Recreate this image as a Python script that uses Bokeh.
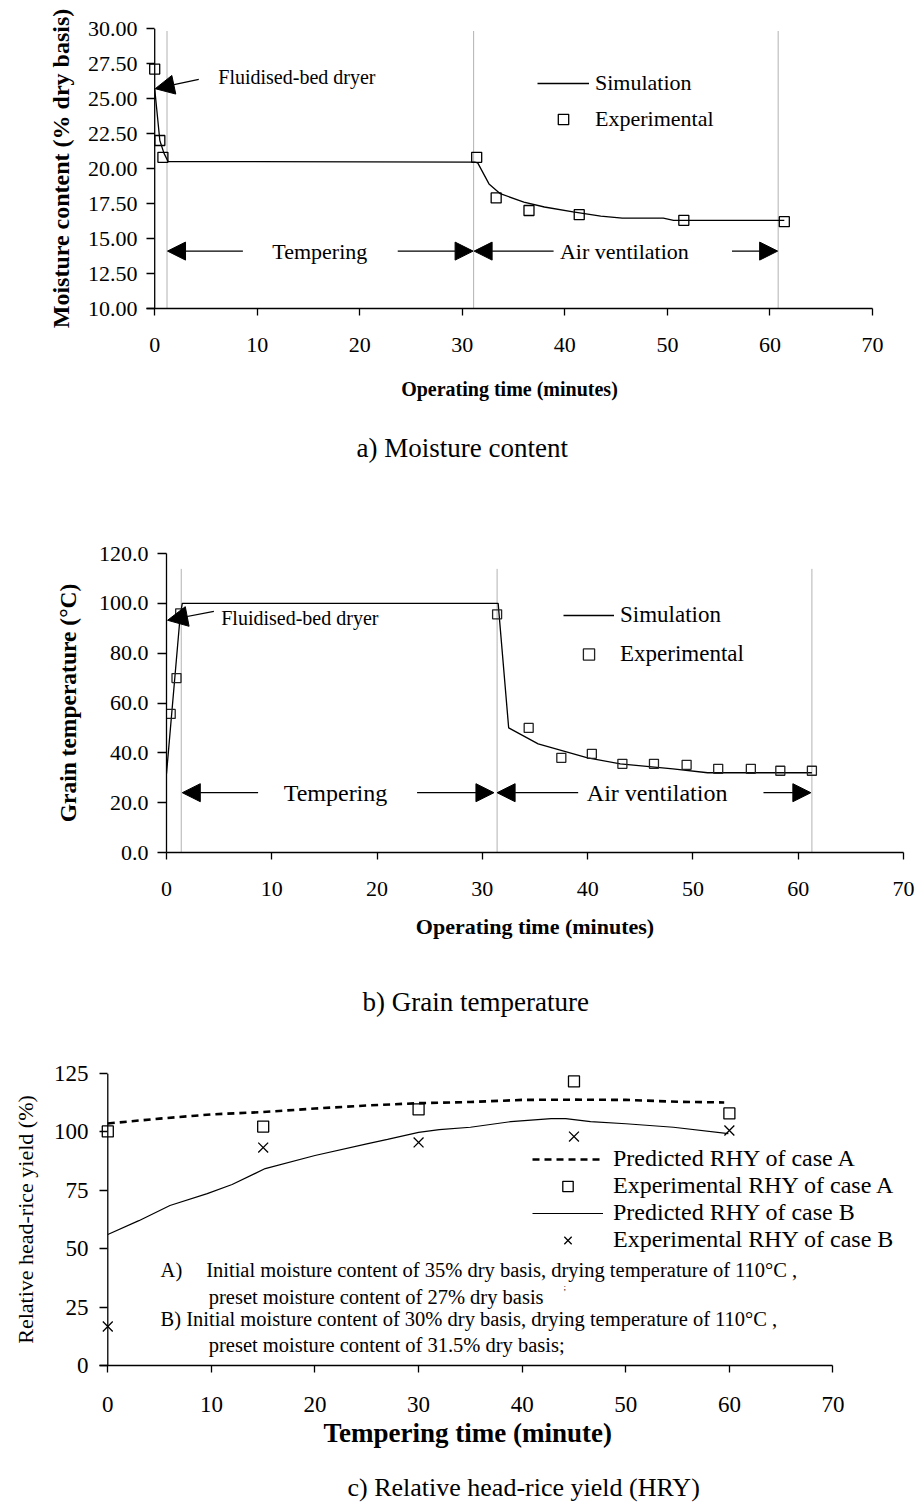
from bokeh.plotting import figure
from bokeh.models import (Range1d, FixedTicker, PrintfTickFormatter, Arrow, NormalHead,
                          Legend, LegendItem, Title, Span)
from bokeh.embed import file_html
from bokeh.resources import INLINE
from bokeh.core.properties import value

FONT = "Liberation Serif"

# ---------------- a) Moisture content ----------------
sim_a_time = [0, 0.5, 0.9, 1.3, 31.2, 31.5, 32.6, 33.7, 36.0, 38.0, 40.8, 43.5, 45.6, 49.6, 50.6, 61.4]
sim_a_mc = [25.7, 22.0, 21.1, 20.5, 20.45, 20.4, 18.9, 18.2, 17.6, 17.25, 16.9, 16.6, 16.45, 16.45, 16.3, 16.3]
exp_a_time = [0, 0.5, 0.8, 31.4, 33.3, 36.5, 41.4, 51.6, 61.4]
exp_a_mc = [27.1, 22.0, 20.8, 20.8, 17.9, 17.0, 16.7, 16.3, 16.2]
phase_a = [1.2, 31.1, 60.8]
a_yticks = [10, 12.5, 15, 17.5, 20, 22.5, 25, 27.5, 30]
x_ticks = [0, 10, 20, 30, 40, 50, 60, 70]

# ---------------- b) Grain temperature ----------------
sim_b_time = [0, 1.3, 1.5, 31.5, 32.5, 35.3, 40.0, 43.1, 48.1, 51.4, 61.3]
sim_b_temp = [31.6, 95.0, 100.0, 100.0, 50.0, 43.6, 38.0, 35.6, 33.6, 32.0, 32.0]
exp_b_time = [0.4, 0.95, 1.3, 31.4, 34.4, 37.5, 40.4, 43.3, 46.3, 49.4, 52.4, 55.5, 58.3, 61.3]
exp_b_temp = [55.6, 70.0, 96.0, 95.6, 50.0, 38.0, 39.6, 35.6, 35.6, 35.2, 33.6, 33.6, 32.8, 32.8]
phase_b = [1.4, 31.4, 61.3]
b_yticks = [0, 20, 40, 60, 80, 100, 120]

# ---------------- c) Relative head-rice yield ----------------
temper_min = [0, 15, 30, 45, 60]
exp_rhy_A = [100.2, 102.3, 109.6, 121.6, 107.9]
exp_rhy_B = [16.7, 93.3, 95.5, 98.0, 100.6]
pred_A_time = [0, 5, 10, 15, 20, 25, 30, 35, 40, 45, 50, 55, 59.5]
pred_rhy_A = [103.6, 105.7, 107.5, 108.5, 110.0, 111.3, 112.3, 112.8, 113.7, 113.8, 113.7, 112.9, 112.6]
pred_B_time = [0, 3, 6, 9.6, 12, 15.2, 20, 25, 27, 30, 32, 35, 38.9, 42.8, 44.2, 46.6, 50, 54.6, 59.9]
pred_rhy_B = [56.1, 62.0, 68.5, 73.6, 77.5, 84.3, 89.9, 94.9, 96.8, 99.8, 101.0, 102.0, 104.4, 105.7, 105.7,
              104.4, 103.5, 102.0, 99.3]
c_yticks = [0, 25, 50, 75, 100, 125]


def style(p, tick_px, xlabel, xlabel_px, ylabel, ylabel_px, ylabel_bold):
    p.outline_line_color = None
    p.xgrid.visible = False
    p.ygrid.visible = False
    p.background_fill_color = "white"
    p.border_fill_color = "white"
    for ax in (p.xaxis[0], p.yaxis[0]):
        ax.axis_line_color = "black"
        ax.axis_line_width = 1.3
        ax.major_tick_line_color = "black"
        ax.major_tick_line_width = 1.3
        ax.major_tick_out = 7
        ax.major_tick_in = 0
        ax.minor_tick_line_color = None
        ax.major_label_text_font = FONT
        ax.major_label_text_font_size = f"{tick_px}px"
        ax.major_label_text_color = "black"
        ax.axis_label_text_font = FONT
        ax.axis_label_text_color = "black"
    if xlabel:
        p.xaxis[0].axis_label = xlabel
        p.xaxis[0].axis_label_text_font_size = f"{xlabel_px}px"
        p.xaxis[0].axis_label_text_font_style = "bold"
    p.yaxis[0].axis_label = ylabel
    p.yaxis[0].axis_label_text_font_size = f"{ylabel_px}px"
    p.yaxis[0].axis_label_text_font_style = "bold" if ylabel_bold else "normal"
    p.xaxis[0].ticker = FixedTicker(ticks=x_ticks)


def inner_y_axis(p, tick_len):
    # axis line drawn at x = 0, ticks reach from the frame edge to it
    ax = p.yaxis[0]
    ax.axis_line_color = None
    ax.major_tick_in = tick_len
    ax.major_tick_out = 0
    p.add_layout(Span(location=0, dimension="height", line_color="black", line_width=1.3))


def arrow(p, xs, ys, xe, ye, size):
    p.add_layout(Arrow(end=NormalHead(size=size, fill_color="black", line_color="black", line_width=1),
                       x_start=xs, y_start=ys, x_end=xe, y_end=ye,
                       line_color="black", line_width=1.2))


def txt(p, x, y, s, px, align="left"):
    p.text(x=[x], y=[y], text=[s], text_font=value(FONT), text_font_size=f"{px}px",
           text_align=align, text_baseline="middle", text_color="black")


def below_title(p, s, px, weight, offset, standoff):
    p.add_layout(Title(text=s, align="left", offset=offset, standoff=standoff,
                       text_font=FONT, text_font_size=f"{px}px", text_font_style=weight,
                       text_color="black"), "below")


def caption(p, s, offset, gap, px=27):
    below_title(p, " ", 1, "normal", 0, gap)      # spacer
    below_title(p, s, px, "normal", offset, 0)


# ===== chart a =====
pa = figure(width=917, height=475, x_range=Range1d(-0.8, 70), y_range=Range1d(10, 30),
            output_backend="svg", toolbar_location=None,
            min_border_left=146, min_border_right=45, min_border_top=28, min_border_bottom=167)
style(pa, 22, "Operating time (minutes)", 20, "Moisture content (% dry basis)", 24, True)
pa.yaxis[0].ticker = FixedTicker(ticks=a_yticks)
pa.yaxis[0].formatter = PrintfTickFormatter(format="%.2f")
inner_y_axis(pa, 8)
pa.yaxis[0].major_label_standoff = 9
pa.yaxis[0].axis_label_standoff = 11
pa.xaxis[0].major_label_standoff = 22
pa.xaxis[0].axis_label_standoff = 23

pa.segment(x0=phase_a, y0=[10] * 3, x1=phase_a, y1=[29.8] * 3,
           line_color="#666666", line_dash="1 1", line_width=1)
ra_sim = pa.line(sim_a_time, sim_a_mc, line_color="black", line_width=1.3)
ra_exp = pa.scatter(exp_a_time, exp_a_mc, marker="square", size=10, fill_color=None,
                    line_color="black", line_width=1.3)
arrow(pa, 4.3, 26.36, 0.05, 25.7, 19)
txt(pa, 6.2, 26.57, "Fluidised-bed dryer", 20)
arrow(pa, 8.6, 14.1, 1.25, 14.1, 18)
arrow(pa, 23.7, 14.1, 31.05, 14.1, 18)
arrow(pa, 38.9, 14.1, 31.15, 14.1, 18)
arrow(pa, 56.3, 14.1, 60.75, 14.1, 18)
txt(pa, 16.1, 14.1, "Tempering", 22, "center")
txt(pa, 45.8, 14.1, "Air ventilation", 22, "center")
la = Legend(items=[LegendItem(label="Simulation", renderers=[ra_sim]),
                   LegendItem(label="Experimental", renderers=[ra_exp])],
            location=(391, 176), glyph_width=52, glyph_height=26, label_height=26, spacing=10,
            label_standoff=6, padding=0, margin=0, border_line_color=None, background_fill_alpha=0,
            label_text_font=FONT, label_text_font_size="22px", label_text_color="black")
pa.add_layout(la)
caption(pa, "a) Moisture content", 356 - 146, 25)

# ===== chart b =====
pb = figure(width=917, height=555, x_range=Range1d(0, 70), y_range=Range1d(0, 120),
            output_backend="svg", toolbar_location=None,
            min_border_left=166, min_border_right=14, min_border_top=78, min_border_bottom=178)
style(pb, 22, "Operating time (minutes)", 22, "Grain temperature (°C)", 23.5, True)
pb.yaxis[0].ticker = FixedTicker(ticks=b_yticks)
pb.yaxis[0].formatter = PrintfTickFormatter(format="%.1f")
pb.yaxis[0].major_tick_out = 9
pb.yaxis[0].major_label_standoff = 9
pb.yaxis[0].axis_label_standoff = 15
pb.xaxis[0].major_label_standoff = 22
pb.xaxis[0].axis_label_standoff = 15

pb.segment(x0=phase_b, y0=[0] * 3, x1=phase_b, y1=[114] * 3,
           line_color="#666666", line_dash="1 1", line_width=1)
rb_sim = pb.line(sim_b_time, sim_b_temp, line_color="black", line_width=1.3)
rb_exp = pb.scatter(exp_b_time, exp_b_temp, marker="square", size=9, fill_color=None,
                    line_color="#222222", line_width=1.3)
arrow(pb, 4.5, 96.8, 0.1, 93.2, 20)
txt(pb, 5.2, 94.0, "Fluidised-bed dryer", 20)
arrow(pb, 8.7, 24, 1.5, 24, 18)
arrow(pb, 23.8, 24, 31.1, 24, 18)
arrow(pb, 39.1, 24, 31.4, 24, 18)
arrow(pb, 56.7, 24, 61.2, 24, 18)
txt(pb, 16.05, 24, "Tempering", 24, "center")
txt(pb, 46.6, 24, "Air ventilation", 24, "center")
lb = Legend(items=[LegendItem(label="Simulation", renderers=[rb_sim]),
                   LegendItem(label="Experimental", renderers=[rb_exp])],
            location=(397, 184), glyph_width=51, glyph_height=28, label_height=28, spacing=11,
            label_standoff=6, padding=0, margin=0, border_line_color=None, background_fill_alpha=0,
            label_text_font=FONT, label_text_font_size="23px", label_text_color="black")
pb.add_layout(lb)
caption(pb, "b) Grain temperature", 362 - 166, 40)

# ===== chart c =====
pc = figure(width=917, height=475, x_range=Range1d(-0.8, 77.0), y_range=Range1d(0, 125),
            output_backend="svg", toolbar_location=None,
            min_border_left=99, min_border_right=12, min_border_top=43, min_border_bottom=140)
style(pc, 23, None, 0, "Relative head-rice yield (%)", 22, False)
pc.xaxis[0].bounds = (-0.8, 70)
pc.yaxis[0].ticker = FixedTicker(ticks=c_yticks)
inner_y_axis(pc, 8)
pc.yaxis[0].major_label_standoff = 11
pc.yaxis[0].axis_label_standoff = 13
pc.xaxis[0].major_label_standoff = 24

rc_pa = pc.line(pred_A_time, pred_rhy_A, line_color="black", line_width=2.6, line_dash="7 5")
rc_ea = pc.scatter(temper_min, exp_rhy_A, marker="square", size=11, fill_color=None,
                   line_color="black", line_width=1.3)
rc_pb = pc.line(pred_B_time, pred_rhy_B, line_color="black", line_width=1.2)
rc_eb = pc.scatter(temper_min, exp_rhy_B, marker="x", size=14, line_color="black", line_width=1.3)
txt(pc, 5.1, 40.7, "A)", 20.5)
txt(pc, 9.5, 40.7, "Initial moisture content of  35% dry basis, drying temperature of  110°C ,", 20.5)
txt(pc, 9.75, 29.5, "preset moisture content of  27% dry basis", 20.5)
txt(pc, 44.0, 33.4, ";", 9)
txt(pc, 5.1, 19.7, "B) Initial moisture content of  30% dry basis, drying temperature of  110°C ,", 20.5)
txt(pc, 9.75, 8.6, "preset moisture content of  31.5% dry basis;", 20.5)
lc = Legend(items=[LegendItem(label="Predicted RHY of case A", renderers=[rc_pa]),
                   LegendItem(label="Experimental RHY of case A", renderers=[rc_ea]),
                   LegendItem(label="Predicted RHY of case B", renderers=[rc_pb]),
                   LegendItem(label="Experimental RHY of case B", renderers=[rc_eb])],
            location=(433, 112), glyph_width=71, glyph_height=26, label_height=26, spacing=0,
            label_standoff=10, padding=0, margin=0, border_line_color=None, background_fill_alpha=0,
            label_text_font=FONT, label_text_font_size="24px", label_text_color="black")
pc.add_layout(lc)
below_title(pc, "Tempering time (minute)", 27, "bold", 323 - 99, 2)   # x-axis title
caption(pc, "c) Relative head-rice yield (HRY)", 347 - 99, 19, 26)

open("out.html", "w").write(file_html([pa, pb, pc], INLINE))
